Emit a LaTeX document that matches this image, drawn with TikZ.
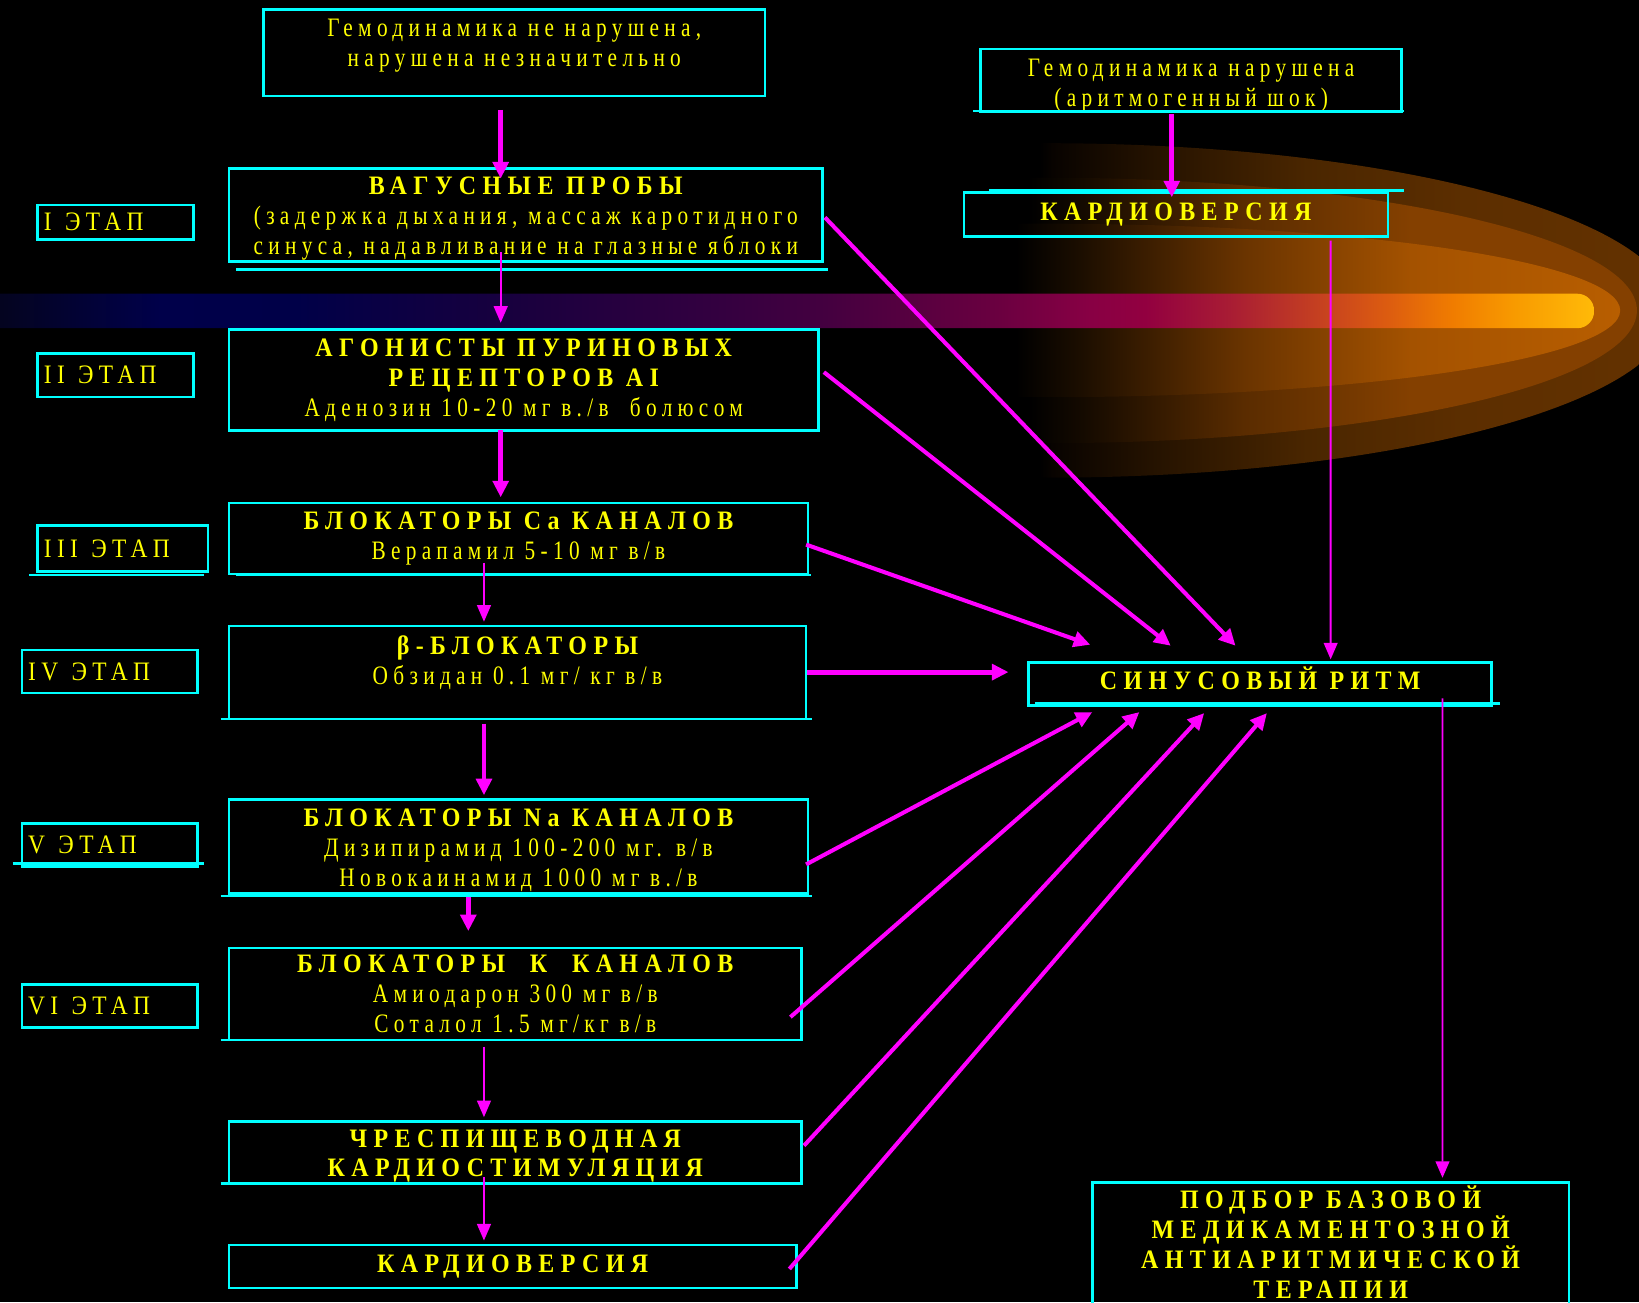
\documentclass[tikz,border=0pt]{standalone}
\usepackage{fontspec}
\setmainfont{Liberation Serif}[FakeStretch=0.8,LetterSpace=20]
\newfontfamily\titfont{Liberation Serif Bold}[FakeStretch=0.9,LetterSpace=24]
\newfontfamily\etapfont{Liberation Serif}[FakeStretch=0.88,LetterSpace=20]
\usepackage{tikz}
\usetikzlibrary{arrows.meta,calc}

\definecolor{cyanline}{HTML}{00FFFF}
\definecolor{yel}{HTML}{FFFF00}
\definecolor{mag}{HTML}{FF00FF}

% band colours, left to right
\definecolor{bA}{HTML}{05051A}\definecolor{bB}{HTML}{00004A}\definecolor{bC}{HTML}{000048}
\definecolor{bD}{HTML}{18003E}\definecolor{bE}{HTML}{340040}\definecolor{bF}{HTML}{440040}
\definecolor{bG}{HTML}{6A0040}\definecolor{bH}{HTML}{880044}\definecolor{bI}{HTML}{920040}
\definecolor{bJ}{HTML}{A81C34}\definecolor{bK}{HTML}{C03A24}\definecolor{bL}{HTML}{DC5C10}
\definecolor{bM}{HTML}{F07C00}\definecolor{bN}{HTML}{F89A00}\definecolor{bO}{HTML}{FFBA08}
% comet colours
\definecolor{oA}{HTML}{080300}\definecolor{oB}{HTML}{241200}\definecolor{oC}{HTML}{4A2600}
\definecolor{oD}{HTML}{5C2E00}\definecolor{oE}{HTML}{643200}
\definecolor{mA}{HTML}{140A00}\definecolor{mB}{HTML}{5A2C00}\definecolor{mC}{HTML}{844000}
\definecolor{iA}{HTML}{1C0E00}\definecolor{iB}{HTML}{6A3400}\definecolor{iC}{HTML}{A45200}
\definecolor{iD}{HTML}{B85E00}

\pgfdeclarehorizontalshading{cometouter}{100bp}{color(0bp)=(black); color(25bp)=(black); color(26bp)=(oA); color(33.7bp)=(oB); color(46.1bp)=(oC); color(58.5bp)=(oD); color(75bp)=(oE); color(100bp)=(oE)}
\pgfdeclarehorizontalshading{cometmid}{100bp}{color(0bp)=(black); color(25bp)=(black); color(29.4bp)=(mA); color(42.7bp)=(mB); color(56.4bp)=(mC); color(75bp)=(mC); color(100bp)=(mC)}
\pgfdeclarehorizontalshading{cometin}{100bp}{color(0bp)=(black); color(25bp)=(black); color(30.4bp)=(iA); color(43.9bp)=(iB); color(57.7bp)=(iC); color(75bp)=(iD); color(100bp)=(iD)}
\pgfdeclarehorizontalshading{band}{100bp}{color(0bp)=(bA); color(25bp)=(bA); color(30.6bp)=(bB); color(34.8bp)=(bC); color(41.4bp)=(bD); color(48bp)=(bE); color(51.2bp)=(bF); color(56.5bp)=(bG); color(59.4bp)=(bH); color(61.1bp)=(bI); color(63.7bp)=(bJ); color(66bp)=(bK); color(68.6bp)=(bL); color(70.6bp)=(bM); color(72.5bp)=(bN); color(75bp)=(bO); color(100bp)=(bO)}

\begin{document}
\begin{tikzpicture}[x=0.02cm,y=-0.02cm,
  box/.style={draw=cyanline,line width=1.4pt,text=yel,align=center,inner sep=0pt,
    font=\fontsize{14.5}{16.3}\selectfont},
  etap/.style={draw=cyanline,line width=1.4pt,text=yel,align=left,inner xsep=0.12cm,
    inner ysep=0pt,font=\etapfont\fontsize{14.5}{16.3}\selectfont},
  rule/.style={cyanline,line width=1.4pt},
  fatarr/.style={mag,line width=2.6pt,-{Triangle[length=9pt,width=8.5pt]}},
  slimarr/.style={mag,line width=1pt,-{Triangle[length=9pt,width=7.5pt]}},
  diagarr/.style={mag,line width=2.2pt,-{Triangle[length=9pt,width=8.5pt]}}]

  \useasboundingbox (0,0) rectangle (1568,1246);
  \clip (0,0) rectangle (1568,1246);
  \fill[black] (0,0) rectangle (1568,1246);

  % comet
  \shade[shading=cometouter] (995,137) -- (1000,137) arc[start angle=-90,end angle=90,x radius=600,y radius=160] -- (995,457) -- cycle;
  \shade[shading=cometmid] (984,170) -- (1000,170) arc[start angle=-90,end angle=90,x radius=566,y radius=127] -- (984,424) -- cycle;
  \shade[shading=cometin] (972,214) -- (1000,214) arc[start angle=-90,end angle=90,x radius=550,y radius=83] -- (972,380) -- cycle;
  \shade[shading=band,rounded corners=0.32cm] (-20,281) rectangle (1525,314);

  % left column
  \node[box,minimum width=9.6cm,minimum height=1.66cm] (top1) at (492,50.5)
    {Гемодинамика не нарушена,\\нарушена незначительно\\[-5pt]\mbox{}};
  \node[box,minimum width=11.36cm,minimum height=1.78cm] (vag) at (503,205.5)
    {\rule{0pt}{14pt}{\titfont ВАГУСНЫЕ ПРОБЫ}\\(задержка дыхания, массаж каротидного\\синуса, надавливание на глазные яблоки};
  \node[box,minimum width=11.28cm,minimum height=1.94cm] (agon) at (501,363.5)
    {{\titfont АГОНИСТЫ ПУРИНОВЫХ}\\{\titfont РЕЦЕПТОРОВ AI}\\Аденозин 10-20 мг в./в\ \ болюсом};
  \node[box,minimum width=11.08cm,minimum height=1.36cm] (ca) at (496,515)
    {{\titfont БЛОКАТОРЫ Ca КАНАЛОВ}\\Верапамил 5-10 мг в/в};
  \node[box,minimum width=11.04cm,minimum height=1.78cm] (beta) at (495,643.5)
    {{\titfont β-БЛОКАТОРЫ}\\Обзидан 0.1 мг/ кг в/в\\[-2.3pt]\mbox{}};
  \node[box,minimum width=11.08cm,minimum height=1.8cm] (na) at (496,810)
    {\rule{0pt}{13.5pt}{\titfont БЛОКАТОРЫ Na КАНАЛОВ}\\Дизипирамид 100-200 мг. в/в\\Новокаинамид 1000 мг в./в};
  \node[box,minimum width=10.96cm,minimum height=1.76cm] (kcan) at (493,951)
    {{\titfont БЛОКАТОРЫ\ \ К\ \ КАНАЛОВ}\\Амиодарон 300 мг в/в\\Соталол 1.5 мг/кг в/в};
  \node[box,minimum width=10.96cm,minimum height=1.18cm] (chres) at (493,1102.5)
    {\rule{0pt}{13.5pt}{\titfont ЧРЕСПИЩЕВОДНАЯ}\\{\titfont КАРДИОСТИМУЛЯЦИЯ}};
  \node[box,minimum width=10.86cm,minimum height=0.82cm] (kard2) at (490.5,1211.5)
    {\titfont КАРДИОВЕРСИЯ};

  % right column
  \node[box,minimum width=8.06cm,minimum height=1.2cm] (top2) at (1139.5,77)
    {\rule{0pt}{15pt}Гемодинамика нарушена\\(аритмогенный шок)};
  \node[box,minimum width=8.12cm,minimum height=0.84cm] (kard1) at (1125,205)
    {\titfont КАРДИОВЕРСИЯ};
  \node[box,minimum width=8.86cm,minimum height=0.82cm] (sinus) at (1205.5,654.5)
    {\titfont СИНУСОВЫЙ РИТМ\rule[-6.5pt]{0pt}{6.5pt}};
  \node[box,minimum width=9.12cm,minimum height=2.5cm] (podbor) at (1273,1193.5)
    {{\titfont ПОДБОР БАЗОВОЙ}\\{\titfont МЕДИКАМЕНТОЗНОЙ}\\{\titfont АНТИАРИТМИЧЕСКОЙ}\\{\titfont ТЕРАПИИ}\rule[-5.5pt]{0pt}{5.5pt}};

  % stages
  \node[etap,text width=2.74cm,minimum height=0.66cm] (st1) at (110.5,212.5) {I\enspace ЭТАП};
  \node[etap,text width=2.74cm,minimum height=0.84cm] (st2) at (110.5,359) {II\enspace ЭТАП};
  \node[etap,text width=3.02cm,minimum height=0.88cm] (st3) at (117.5,525) {III\enspace ЭТАП};
  \node[etap,text width=3.12cm,minimum height=0.82cm] (st4) at (105,642.5) {IV\enspace ЭТАП};
  \node[etap,text width=3.12cm,minimum height=0.82cm] (st5) at (105,808.5) {V\enspace ЭТАП};
  \node[etap,text width=3.12cm,minimum height=0.82cm] (st6) at (105,962.5) {VI\enspace ЭТАП};

  \draw[rule] (931,106) -- (1343,106);
  \draw[rule] (946,182) -- (1343,182);
  \draw[rule] (226,258) -- (792,258);
  \draw[rule] (226,550) -- (776,550);
  \draw[rule] (28,550) -- (195,550);
  \draw[rule] (211,688) -- (777,688);
  \draw[rule] (12,826) -- (195,826);
  \draw[rule] (211,857) -- (777,857);
  \draw[rule] (211,995) -- (760,995);
  \draw[rule] (211,1132) -- (760,1132);
  \draw[rule] (990,673) -- (1435,673);

  % down the stages
  \draw[fatarr] ($(top1.south)+(-13,12)$) -- ($(vag.north)+(-24,11)$);
  \draw[slimarr] ($(vag.south)+(-24,-10)$) -- ($(agon.north)+(-22,-5)$);
  \draw[fatarr] ($(agon.south)+(-22,-2)$) -- ($(ca.north)+(-17,-4)$);
  \draw[slimarr] ($(ca.south)+(-33,-12)$) -- ($(beta.north)+(-32,-3)$);
  \draw[fatarr] ($(beta.south)+(-32,3)$) -- ($(na.north)+(-33,-3)$);
  \draw[fatarr] ($(na.south)+(-48,2)$) -- ($(kcan.north)+(-45,-15)$);
  \draw[slimarr] ($(kcan.south)+(-30,5)$) -- ($(chres.north)+(-30,-3)$);
  \draw[slimarr] ($(chres.south)+(-30,-7)$) -- ($(kard2.north)+(-27.5,-3)$);
  \draw[fatarr] ($(top2.south)+(-18.5,1)$) -- ($(kard1.north)+(-4,6)$);
  \draw[slimarr] ($(kard1.south)+(148,3)$) -- ($(sinus.north)+(67.5,-2)$);
  \draw[slimarr] ($(sinus.south)+(174.5,-8)$) -- ($(podbor.north)+(107,-3)$);

  % to the sinus rhythm
  \draw[diagarr] ($(vag.east)+(1,2.5)$) -- ($(sinus.north)+(-23.5,-15)$);
  \draw[diagarr] ($(agon.east)+(4,-7.5)$) -- ($(sinus.north)+(-85.5,-15)$);
  \draw[diagarr] ($(ca.east)+(-3,6)$) -- ($(sinus.north)+(-162.5,-16)$);
  \draw[fatarr] ($(beta.east)+(0,-0.5)$) -- ($(sinus.west)+(-18,-11.5)$);
  \draw[diagarr] ($(na.east)+(-3,17)$) -- ($(sinus.south)+(-160.5,5)$);
  \draw[diagarr] ($(kcan.east)+(-12,22)$) -- ($(sinus.south)+(-115.5,5)$);
  \draw[diagarr] ($(chres.east)+(1,-6.5)$) -- ($(sinus.south)+(-53.5,6)$);
  \draw[diagarr] ($(kard2.east)+(-8,2.5)$) -- ($(sinus.south)+(6.5,6)$);
\end{tikzpicture}
\end{document}
